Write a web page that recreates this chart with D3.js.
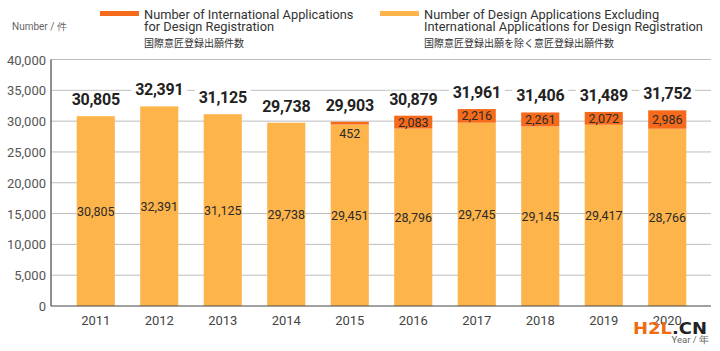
<!DOCTYPE html>
<html>
<head>
<meta charset="utf-8">
<script src="https://cdn.jsdelivr.net/npm/d3@7"></script>
<style>
  body { margin: 0; background: #fff; }
  svg { display: block; font-family: Roboto, "Noto Sans", sans-serif; }
</style>
</head>
<body>
<svg id="chart" width="720" height="351"></svg>
<script>
const years = ["2011", "2012", "2013", "2014", "2015", "2016", "2017", "2018", "2019", "2020"];
const domestic = [30805, 32391, 31125, 29738, 29451, 28796, 29745, 29145, 29417, 28766];
const international = [0, 0, 0, 0, 452, 2083, 2216, 2261, 2072, 2986];
const totals = [30805, 32391, 31125, 29738, 29903, 30879, 31961, 31406, 31489, 31752];
const yTicks = [0, 5000, 10000, 15000, 20000, 25000, 30000, 35000, 40000];

const colDomestic = "#fdb44b";
const colIntl = "#f56a1b";

const svg = d3.select("#chart");
const fmt = d3.format(",");

const x = d3.scaleBand().domain(years).range([64, 699]).paddingInner(0.4).paddingOuter(0.2);
const y = d3.scaleLinear().domain([0, 40000]).range([306, 59.5]);
const left = 51, right = 711;

// grid
svg.append("g").selectAll("line")
    .data(yTicks.filter(d => d > 0))
    .enter().append("line")
    .attr("x1", left).attr("x2", right)
    .attr("y1", d => y(d)).attr("y2", d => y(d))
    .style("stroke", "#bdbdbd").style("stroke-width", 1);

// y tick labels
svg.append("g").selectAll("text")
    .data(yTicks)
    .enter().append("text")
    .attr("x", 46).attr("y", d => y(d) + 5)
    .attr("text-anchor", "end")
    .style("font-size", "13px").style("fill", "#555")
    .text(d => fmt(d));

// bars
const bars = svg.append("g");
years.forEach((yr, i) => {
    const x0 = x(yr), w = x.bandwidth();
    bars.append("rect")
        .attr("x", x0).attr("width", w)
        .attr("y", y(domestic[i])).attr("height", y(0) - y(domestic[i]))
        .style("fill", colDomestic);
    if (international[i] > 0) {
        bars.append("rect")
            .attr("x", x0).attr("width", w)
            .attr("y", y(totals[i])).attr("height", y(domestic[i]) - y(totals[i]))
            .style("fill", colIntl);
    }
});

// axes lines
svg.append("line").attr("x1", left).attr("x2", left).attr("y1", 59.5).attr("y2", y(0))
    .style("stroke", "#444").style("stroke-width", 1.2);
svg.append("line").attr("x1", left).attr("x2", right).attr("y1", y(0)).attr("y2", y(0))
    .style("stroke", "#444").style("stroke-width", 1.2);

// x labels
svg.append("g").selectAll("text")
    .data(years)
    .enter().append("text")
    .attr("x", d => x(d) + x.bandwidth() / 2).attr("y", 325)
    .attr("text-anchor", "middle")
    .style("font-size", "13px").style("fill", "#444")
    .text(d => d);

// value labels inside bars
const labels = svg.append("g").style("font-size", "12.5px").style("fill", "#2a2a2a")
    .attr("text-anchor", "middle");
years.forEach((yr, i) => {
    const cx = x(yr) + x.bandwidth() / 2;
    labels.append("text")
        .attr("x", cx).attr("y", (y(domestic[i]) + y(0)) / 2 + 5)
        .text(fmt(domestic[i]));
    if (international[i] > 0) {
        const top = y(totals[i]), bot = y(domestic[i]);
        // thin segment (2015): label sits just under it
        const cy = (bot - top) < 6 ? bot + 13 : (top + bot) / 2 + 4.5;
        labels.append("text")
            .attr("x", cx).attr("y", cy)
            .text(fmt(international[i]));
    }
});

// total labels with white backing over the grid
const tot = svg.append("g").attr("text-anchor", "middle");
years.forEach((yr, i) => {
    const cx = x(yr) + x.bandwidth() / 2;
    const ty = y(totals[i]) - 11;
    tot.append("rect")
        .attr("x", cx - 28).attr("y", ty - 14).attr("width", 56).attr("height", 17)
        .style("fill", "#fff");
    tot.append("text")
        .attr("x", cx).attr("y", ty)
        .style("font-size", "16px").style("font-weight", "bold").style("fill", "#222")
        .style("letter-spacing", "-0.3px")
        .text(fmt(totals[i]));
});

// unit labels
svg.append("text").attr("x", 12).attr("y", 30)
    .style("font-size", "10px").style("fill", "#666").text("Number / 件");
svg.append("text").attr("x", 709).attr("y", 343).attr("text-anchor", "end")
    .style("font-size", "9.5px").style("fill", "#666").text("Year / 年");

// legend
const legend = [
    { x: 100, color: colIntl, lines: ["Number of International Applications", "for Design Registration"], jp: "国際意匠登録出願件数" },
    { x: 380, color: colDomestic, lines: ["Number of Design Applications Excluding", "International  Applications for Design Registration"], jp: "国際意匠登録出願を除く意匠登録出願件数" }
];
legend.forEach(l => {
    const g = svg.append("g");
    g.append("rect").attr("x", l.x).attr("y", 11).attr("width", 39).attr("height", 5).style("fill", l.color);
    l.lines.forEach((t, k) => {
        g.append("text").attr("x", l.x + 44).attr("y", 18.5 + k * 12.8)
            .style("font-size", "12.8px").style("fill", "#333").text(t);
    });
    g.append("text").attr("x", l.x + 44).attr("y", 47)
        .style("font-size", "10px").style("fill", "#333")
        .style("font-family", "'Noto Sans CJK JP', sans-serif").text(l.jp);
});

// watermark
const wm = svg.append("text").attr("x", 633).attr("y", 334)
    .attr("textLength", 74).attr("lengthAdjust", "spacingAndGlyphs")
    .style("font-size", "16.5px").style("font-weight", "bold")
    .style("font-family", "'DejaVu Sans', sans-serif");
wm.append("tspan").style("fill", "#f26a10").text("H2L");
wm.append("tspan").style("fill", "#222").text(".CN");
</script>
</body>
</html>
